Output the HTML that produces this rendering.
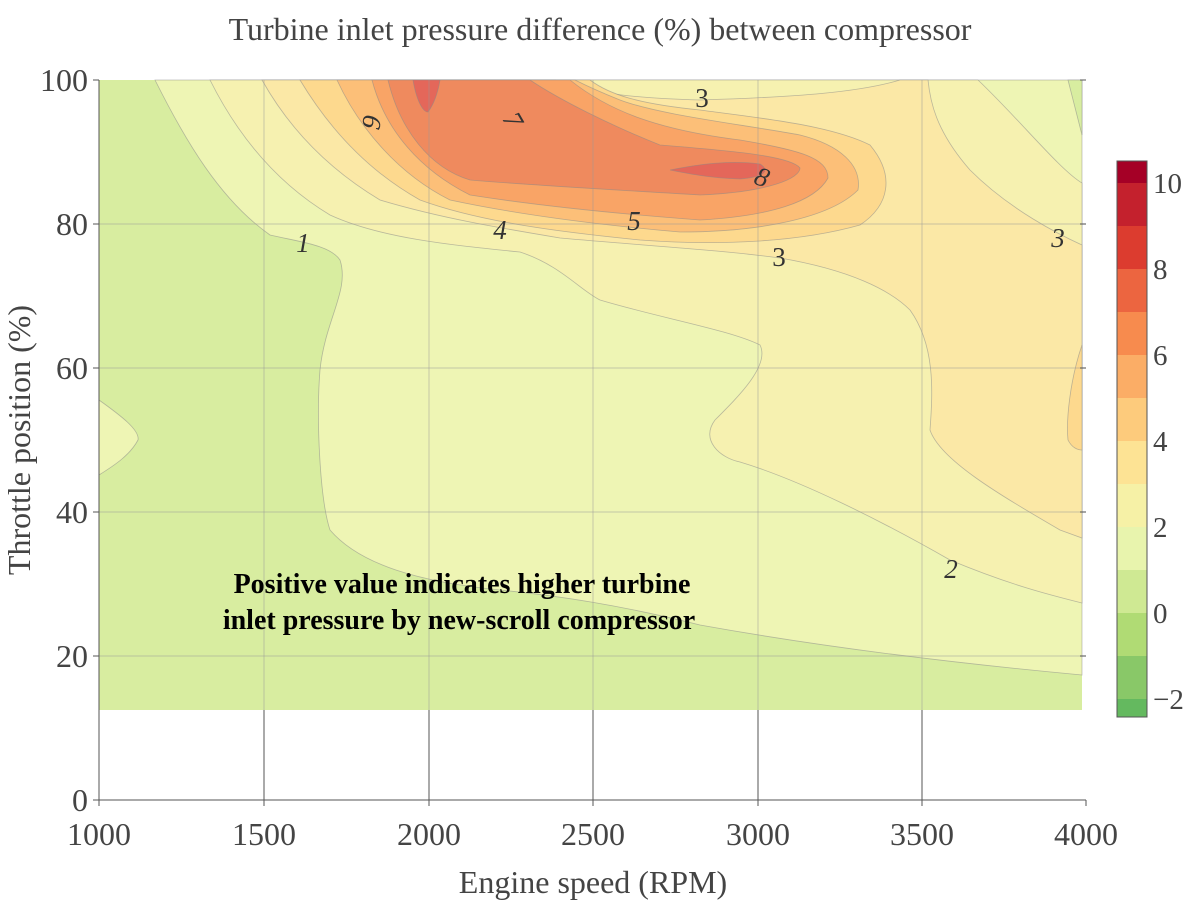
<!DOCTYPE html>
<html><head><meta charset="utf-8"><style>
body{margin:0;background:#fff}
svg{display:block;font-family:"Liberation Serif",serif}
</style></head><body>
<svg width="1200" height="900" viewBox="0 0 1200 900">
<rect width="1200" height="900" fill="#fff"/>
<text x="600" y="40" text-anchor="middle" font-size="32" fill="#444">Turbine inlet pressure difference (%) between compressor</text>
<g stroke="#888" stroke-opacity="0.55" stroke-width="0.8">
<rect x="99" y="80" width="983" height="630" fill="#d8eda0" stroke="none"/>
<path fill="#eef5b4" d="M155,80 C185,140 220,200 270,235 C300,242 330,245 340,260 C350,290 325,320 320,370 C316,420 320,500 330,530 C360,565 420,582 500,590 C560,596 620,605 700,625 C800,643 920,660 1082,675 L1082,80 Z"/>
<path fill="#d8eda0" d="M1068,80 L1082,80 L1082,135 Z"/>
<path fill="#eef5b4" d="M99,400 C120,415 140,430 138,440 C130,455 115,465 99,475 Z"/>
<path fill="#f6f1b0" d="M210,80 C240,140 280,185 330,215 C380,238 450,245 520,252 C560,265 580,290 600,300 C660,318 730,330 760,345 C770,365 740,395 715,420 C700,440 720,458 740,462 C800,480 880,520 950,560 C1010,585 1050,595 1082,603 L1082,183 C1060,170 1020,120 978,80 Z"/>
<path fill="#fbe8a6" d="M262,80 C290,130 330,170 380,200 C440,218 500,228 560,238 C650,246 720,250 780,258 C850,270 890,290 910,310 C935,345 933,390 930,430 C940,460 1000,495 1060,530 L1082,538 L1082,245 C1060,235 1010,210 970,170 C935,130 930,100 928,80 L900,80 C860,92 800,97 700,100 C620,98 580,90 555,80 Z"/>
<path fill="#fdd98e" d="M1082,345 C1070,380 1066,420 1068,440 C1072,448 1078,450 1082,450 Z"/>
<path fill="#fdd98e" d="M300,80 C330,130 370,172 420,200 C480,222 560,232 640,240 C720,246 800,242 860,225 C890,205 895,175 870,145 C830,125 760,118 700,110 C640,104 610,95 590,80 Z"/>
<path fill="#fcbf78" d="M337,80 C360,130 400,175 450,200 C520,215 600,225 680,232 C760,232 830,218 858,190 C862,165 840,145 800,135 C740,124 660,115 620,100 C600,92 585,85 575,80 Z"/>
<path fill="#f9a466" d="M372,80 C385,130 420,170 470,195 C540,206 620,214 700,220 C770,216 815,202 828,178 C828,158 800,150 740,140 C660,130 610,112 570,80 Z"/>
<path fill="#ef8a5e" d="M388,80 C400,130 430,168 470,180 C540,186 620,190 700,195 C770,192 800,178 800,168 C790,155 720,150 660,145 C610,125 560,100 530,80 Z"/>
<path fill="#e4675a" d="M413,80 C416,98 422,112 428,112 C434,104 438,92 440,80 Z"/>
<path fill="#e4675a" d="M670,170 C700,164 730,160 760,164 C770,170 766,177 740,179 C710,178 690,174 670,170 Z"/>
</g>
<g stroke="#999" stroke-opacity="0.4" stroke-width="1.2">
<line x1="264" y1="80" x2="264" y2="710"/><line x1="429" y1="80" x2="429" y2="710"/><line x1="593" y1="80" x2="593" y2="710"/><line x1="758" y1="80" x2="758" y2="710"/><line x1="922" y1="80" x2="922" y2="710"/>
<line x1="99" y1="224" x2="1086" y2="224"/><line x1="99" y1="368" x2="1086" y2="368"/><line x1="99" y1="512" x2="1086" y2="512"/><line x1="99" y1="656" x2="1086" y2="656"/>
</g>
<g stroke="#555" stroke-width="1">
<line x1="264" y1="710" x2="264" y2="800"/><line x1="429" y1="710" x2="429" y2="800"/><line x1="593" y1="710" x2="593" y2="800"/><line x1="758" y1="710" x2="758" y2="800"/><line x1="922" y1="710" x2="922" y2="800"/>
<line x1="99" y1="80" x2="99" y2="800"/><line x1="99" y1="800" x2="1086" y2="800"/>
<line x1="93" y1="80" x2="99" y2="80"/><line x1="93" y1="224" x2="99" y2="224"/><line x1="93" y1="368" x2="99" y2="368"/><line x1="93" y1="512" x2="99" y2="512"/><line x1="93" y1="656" x2="99" y2="656"/><line x1="93" y1="800" x2="99" y2="800"/>
<line x1="1080" y1="80" x2="1086" y2="80"/><line x1="1080" y1="224" x2="1086" y2="224"/><line x1="1080" y1="368" x2="1086" y2="368"/><line x1="1080" y1="512" x2="1086" y2="512"/><line x1="1080" y1="656" x2="1086" y2="656"/><line x1="1086" y1="800" x2="1086" y2="806"/>
<line x1="99" y1="800" x2="99" y2="806"/><line x1="264" y1="800" x2="264" y2="806"/><line x1="429" y1="800" x2="429" y2="806"/><line x1="593" y1="800" x2="593" y2="806"/><line x1="758" y1="800" x2="758" y2="806"/><line x1="922" y1="800" x2="922" y2="806"/>
</g>
<g font-size="27" fill="#333" font-style="italic">
<text x="303" y="252" text-anchor="middle">1</text>
<text x="500" y="239" text-anchor="middle">4</text>
<text x="634" y="230" text-anchor="middle">5</text>
<text x="779" y="266" text-anchor="middle" font-style="normal">3</text>
<text x="702" y="107" text-anchor="middle" font-style="normal">3</text>
<text x="1058" y="247" text-anchor="middle">3</text>
<text x="951" y="578" text-anchor="middle">2</text>
<text transform="translate(372,122) rotate(100)" text-anchor="middle" dy="9">6</text>
<text transform="translate(513,120) rotate(60)" text-anchor="middle" dy="9">7</text>
<text transform="translate(762,177) rotate(20)" text-anchor="middle" dy="9">8</text>
</g>
<g font-size="28" font-weight="bold" fill="#000" text-anchor="middle">
<text x="462" y="593">Positive value indicates higher turbine</text>
<text x="459" y="629">inlet pressure by new-scroll compressor</text>
</g>
<g font-size="32" fill="#444">
<g text-anchor="end">
<text x="88" y="91">100</text><text x="88" y="235">80</text><text x="88" y="379">60</text><text x="88" y="523">40</text><text x="88" y="667">20</text><text x="88" y="811">0</text>
</g>
<g text-anchor="middle">
<text x="99" y="845">1000</text><text x="264" y="845">1500</text><text x="429" y="845">2000</text><text x="593" y="845">2500</text><text x="758" y="845">3000</text><text x="922" y="845">3500</text><text x="1086" y="845">4000</text>
<text x="593" y="893">Engine speed (RPM)</text>
</g>
<text transform="translate(30,440) rotate(-90)" text-anchor="middle">Throttle position (%)</text>
</g>
<g>
<rect x="1117" y="161" width="30" height="22" fill="#a50026"/>
<rect x="1117" y="183" width="30" height="43" fill="#c4212d"/>
<rect x="1117" y="226" width="30" height="43" fill="#dc3c2f"/>
<rect x="1117" y="269" width="30" height="43" fill="#ec6540"/>
<rect x="1117" y="312" width="30" height="43" fill="#f78b4e"/>
<rect x="1117" y="355" width="30" height="43" fill="#fbad66"/>
<rect x="1117" y="398" width="30" height="43" fill="#fdcb7c"/>
<rect x="1117" y="441" width="30" height="43" fill="#fde394"/>
<rect x="1117" y="484" width="30" height="43" fill="#f6f1a6"/>
<rect x="1117" y="527" width="30" height="43" fill="#e8f4ad"/>
<rect x="1117" y="570" width="30" height="43" fill="#cfe993"/>
<rect x="1117" y="613" width="30" height="43" fill="#b0db74"/>
<rect x="1117" y="656" width="30" height="43" fill="#89c868"/>
<rect x="1117" y="699" width="30" height="18" fill="#64b95f"/>
<rect x="1117" y="161" width="30" height="556" fill="none" stroke="#555" stroke-width="1"/>
</g>
<g font-size="29" fill="#444">
<text x="1153" y="193">10</text><text x="1153" y="279">8</text><text x="1153" y="365">6</text><text x="1153" y="451">4</text><text x="1153" y="537">2</text><text x="1153" y="623">0</text><text x="1153" y="709">−2</text>
</g>
</svg>
</body></html>
